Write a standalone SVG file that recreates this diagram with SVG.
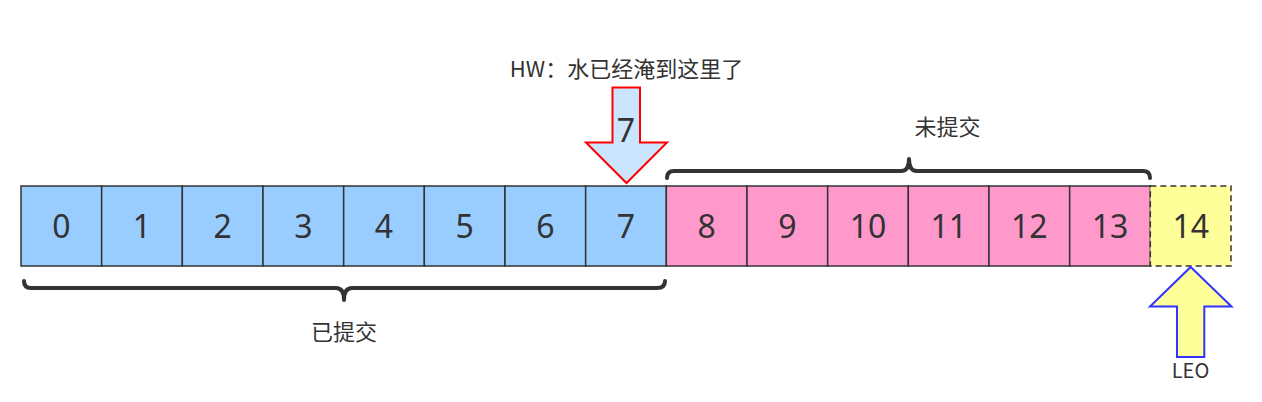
<svg xmlns="http://www.w3.org/2000/svg" width="1262" height="402" viewBox="0 0 1262 402">
<style>
.c{stroke:#333333;stroke-width:1.5}
.b{fill:#99ccff}
.p{fill:#ff99cc}
.y{fill:#ffff99}
.n{font-family:"Noto Sans","Noto Sans CJK SC",sans-serif;font-size:32px;fill:#333333;text-anchor:middle}
.t{font-family:"Noto Sans CJK SC","Noto Sans",sans-serif;font-size:22px;fill:#333333;text-anchor:middle}
.br{fill:none;stroke:#333333;stroke-width:4;stroke-linejoin:round;stroke-linecap:round}
</style>
<rect width="1262" height="402" fill="#ffffff"/>
<g id="cell0"><rect class="c b" x="21" y="186" width="80.67" height="80"/><text class="n" x="61.3" y="238">0</text></g>
<g id="cell1"><rect class="c b" x="101.67" y="186" width="80.67" height="80"/><text class="n" x="142" y="238">1</text></g>
<g id="cell2"><rect class="c b" x="182.33" y="186" width="80.67" height="80"/><text class="n" x="222.7" y="238">2</text></g>
<g id="cell3"><rect class="c b" x="263" y="186" width="80.67" height="80"/><text class="n" x="303.3" y="238">3</text></g>
<g id="cell4"><rect class="c b" x="343.67" y="186" width="80.67" height="80"/><text class="n" x="384" y="238">4</text></g>
<g id="cell5"><rect class="c b" x="424.33" y="186" width="80.67" height="80"/><text class="n" x="464.7" y="238">5</text></g>
<g id="cell6"><rect class="c b" x="505" y="186" width="80.67" height="80"/><text class="n" x="545.3" y="238">6</text></g>
<g id="cell7"><rect class="c b" x="585.67" y="186" width="80.67" height="80"/><text class="n" x="626" y="238">7</text></g>
<g id="cell8"><rect class="c p" x="666.33" y="186" width="80.67" height="80"/><text class="n" x="706.7" y="238">8</text></g>
<g id="cell9"><rect class="c p" x="747" y="186" width="80.67" height="80"/><text class="n" x="787.3" y="238">9</text></g>
<g id="cell10"><rect class="c p" x="827.67" y="186" width="80.67" height="80"/><text class="n" x="868" y="238">10</text></g>
<g id="cell11"><rect class="c p" x="908.33" y="186" width="80.67" height="80"/><text class="n" x="948.7" y="238">11</text></g>
<g id="cell12"><rect class="c p" x="989" y="186" width="80.67" height="80"/><text class="n" x="1029.3" y="238">12</text></g>
<g id="cell13"><rect class="c p" x="1069.67" y="186" width="80.67" height="80"/><text class="n" x="1110" y="238">13</text></g>
<g id="cell14"><rect class="c y" x="1150.33" y="186" width="80.67" height="80" stroke-dasharray="6 4" stroke-width="2"/><text class="n" x="1190.7" y="238">14</text></g>
<g id="committed">
<path class="br" d="M24,281 Q24,288 31,288 L336,288 Q344,288 344,300 Q344,288 352,288 L657,288 Q665,288 665,281"/>
<text class="t" x="344" y="340">已提交</text>
</g>
<g id="uncommitted">
<path class="br" d="M667,178 Q667,171 674,171 L901,171 Q909,171 909,159 Q909,171 917,171 L1143,171 Q1150,171 1150,178"/>
<text class="t" x="947.5" y="135">未提交</text>
</g>
<g id="hw">
<path d="M612.5,87.5 L640,87.5 L640,142.5 L667,142.5 L626.5,183 L586,142.5 L612.5,142.5 Z" fill="#cce5ff" stroke="#ff0000" stroke-width="2" stroke-linejoin="miter"/>
<text class="n" x="626" y="141.5">7</text>
<text class="t" x="626.5" y="77">HW：水已经淹到这里了</text>
</g>
<g id="leo">
<path d="M1190.7,267 L1231.5,306.5 L1204.3,306.5 L1204.3,357 L1177,357 L1177,306.5 L1150,306.5 Z" fill="#ffff99" stroke="#3333ff" stroke-width="2"/>
<text class="t" x="1190.5" y="378" style="font-size:20px">LEO</text>
</g>
</svg>
